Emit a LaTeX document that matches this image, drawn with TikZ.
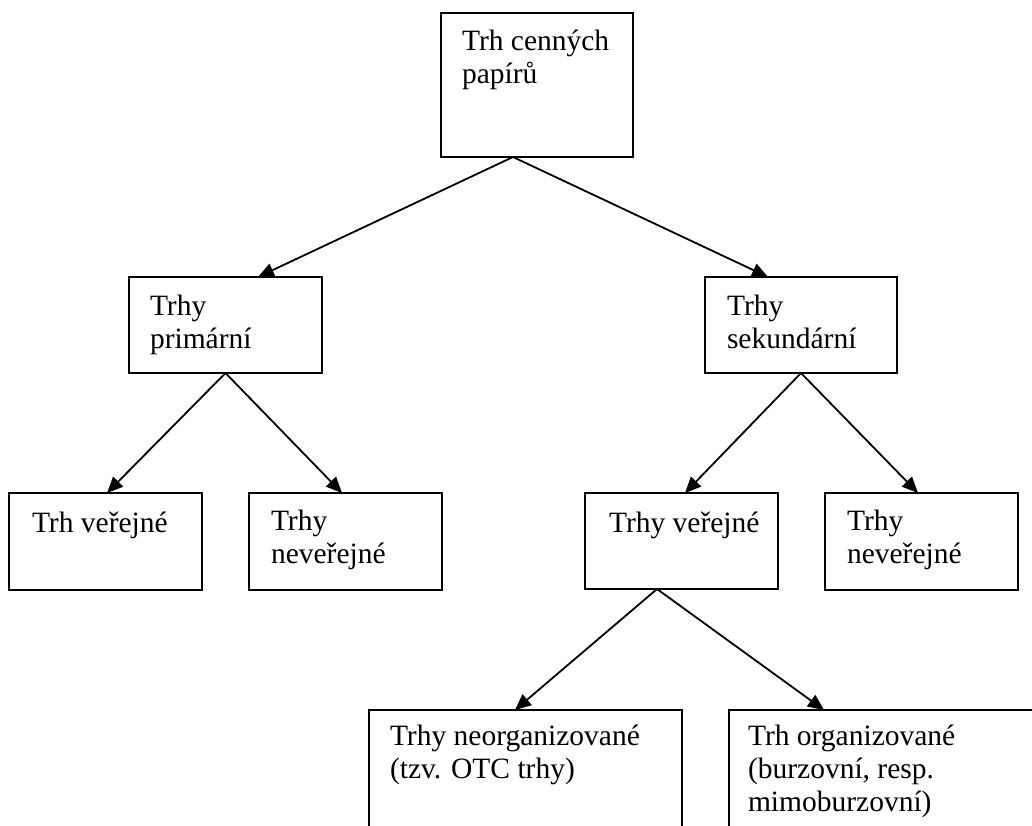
\documentclass[tikz,border=0pt]{standalone}
\usepackage{fontspec}
\setmainfont{Liberation Serif}
\usetikzlibrary{arrows.meta,calc}
\begin{document}
\begin{tikzpicture}[x=1pt,y=-1pt,
  box/.style={draw, line width=1.8pt, inner sep=0pt, outer sep=0pt, anchor=north west, minimum width=193pt, minimum height=97pt},
  txt/.style={inner sep=0pt, outer sep=0pt, anchor=base west, font=\fontsize{29.5}{33}\selectfont},
  conn/.style={line width=1.8pt, -{Triangle[length=16pt,width=14pt]}}]
\useasboundingbox (0,0) rectangle (1032,825);
\clip (0,0) rectangle (1032,825);
% boxes
\node[box, minimum width=192pt, minimum height=144pt] (top) at (441,13) {};
\node[box, minimum height=96pt] (prim) at (129,277) {};
\node[box, minimum width=192pt, minimum height=96pt] (sek) at (705,277) {};
\node[box] (tv) at (9,493) {};
\node[box] (tn1) at (249,493) {};
\node[box, minimum height=96pt] (tv2) at (585,493) {};
\node[box] (tn2) at (825,493) {};
\node[box, minimum width=313pt, minimum height=160pt] (neorg) at (369,710) {};
\node[box, minimum width=340pt, minimum height=160pt] (org) at (729,710) {};
% texts
\node[txt] (top-t) at ($(top.north west)+(21,37)$) {\parbox[t]{300pt}{Trh cenných\\papírů}};
\node[txt] (prim-t) at ($(prim.north west)+(21,38)$) {\parbox[t]{300pt}{Trhy\\primární}};
\node[txt] (sek-t) at ($(sek.north west)+(22,38)$) {\parbox[t]{300pt}{Trhy\\sekundární}};
\node[txt] (tv-t) at ($(tv.north west)+(23,39)$) {\parbox[t]{300pt}{Trh veřejné}};
\node[txt] (tn1-t) at ($(tn1.north west)+(22,37)$) {\parbox[t]{300pt}{Trhy\\neveřejné}};
\node[txt] (tv2-t) at ($(tv2.north west)+(24,39)$) {\parbox[t]{300pt}{Trhy veřejné}};
\node[txt] (tn2-t) at ($(tn2.north west)+(22,37)$) {\parbox[t]{300pt}{Trhy\\neveřejné}};
\node[txt] (neorg-t) at ($(neorg.north west)+(21,35)$) {\parbox[t]{400pt}{Trhy neorganizované\\(tzv. OTC trhy)}};
\node[txt] (org-t) at ($(org.north west)+(19,35)$) {\parbox[t]{400pt}{Trh organizované\\(burzovní, resp.\\mimoburzovní)}};
% connectors
\draw[conn] ($(top.south west)+(72,0)$) -- ($(prim.north west)+(129,0)$);
\draw[conn] ($(top.south west)+(72,0)$) -- ($(sek.north west)+(63,0)$);
\draw[conn] (prim.south) -- ($(tv.north west)+(98,0)$);
\draw[conn] (prim.south) -- ($(tn1.north west)+(93,0)$);
\draw[conn] (sek.south) -- ($(tv2.north west)+(100,0)$);
\draw[conn] (sek.south) -- ($(tn2.north west)+(93,0)$);
\draw[conn] ($(tv2.south west)+(72,0)$) -- ($(neorg.north west)+(146,0)$);
\draw[conn] ($(tv2.south west)+(72,0)$) -- ($(org.north west)+(95,0)$);
\end{tikzpicture}
\end{document}
